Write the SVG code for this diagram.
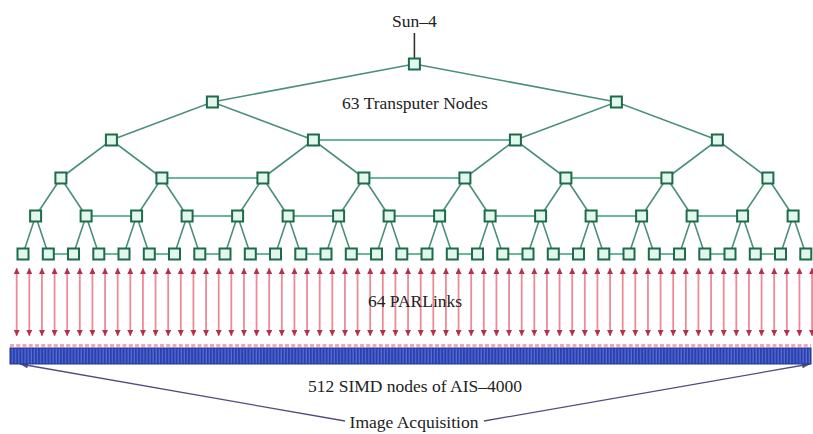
<svg xmlns="http://www.w3.org/2000/svg" xmlns:xlink="http://www.w3.org/1999/xlink" width="813" height="434" viewBox="0 0 813 434">
<style>
text{font-family:"Liberation Serif","Times New Roman",serif;font-size:17.5px;fill:#222;text-anchor:middle}
.tree{fill:none;stroke:#4a8f7a;stroke-width:1.6}
.hl{fill:none;stroke:#37a07f;stroke-width:1.6}
.nd{fill:#e2f8ec;stroke:#1e6a4b;stroke-width:2}
.pl{stroke:#ec8a98;stroke-width:1.8;marker-start:url(#ar);marker-end:url(#ar)}
.aq{fill:none;stroke:#4e4e7e;stroke-width:1.3;marker-end:url(#aq)}
</style>
<defs>
<rect id="nd" class="nd" x="-5.5" y="-5.5" width="11" height="11"/>
<marker id="ar" viewBox="0 0 6 6" refX="6" refY="3" markerWidth="6" markerHeight="6" markerUnits="userSpaceOnUse" orient="auto-start-reverse"><path d="M0,0L6,3L0,6z" fill="#b3304a"/></marker>
<marker id="aq" viewBox="0 0 8 6" refX="8" refY="3" markerWidth="8" markerHeight="6" markerUnits="userSpaceOnUse" orient="auto"><path d="M0,0L8,3L0,6z" fill="#4e4e7e"/></marker>
<pattern id="cells" x="10" y="0" width="3.125" height="20" patternUnits="userSpaceOnUse"><rect width="3.125" height="20" fill="#2b3fae"/><rect x="2" width="1" height="20" fill="#5a78d8"/></pattern>
</defs>
<rect width="813" height="434" fill="#fff"/>
<g id="connectors">
<path class="tree" d="M212.4,102L414.4,64L616.4,102
M111.4,140L212.4,102L313.4,140 M515.4,140L616.4,102L717.4,140
M60.9,178L111.4,140L161.9,178 M262.9,178L313.4,140L363.9,178 M464.9,178L515.4,140L565.9,178 M666.9,178L717.4,140L767.9,178
M35.6,216L60.9,178L86.1,216 M136.6,216L161.9,178L187.1,216 M237.6,216L262.9,178L288.1,216 M338.6,216L363.9,178L389.1,216 M439.6,216L464.9,178L490.1,216 M540.6,216L565.9,178L591.1,216 M641.6,216L666.9,178L692.1,216 M742.6,216L767.9,178L793.1,216
M23,254L35.6,216L48.3,254 M73.5,254L86.1,216L98.8,254 M124,254L136.6,216L149.3,254 M174.5,254L187.1,216L199.8,254 M225,254L237.6,216L250.3,254 M275.5,254L288.1,216L300.8,254 M326,254L338.6,216L351.3,254 M376.5,254L389.1,216L401.8,254 M427,254L439.6,216L452.3,254 M477.5,254L490.1,216L502.8,254 M528,254L540.6,216L553.3,254 M578.5,254L591.1,216L603.8,254 M629,254L641.6,216L654.3,254 M679.5,254L692.1,216L704.8,254 M730,254L742.6,216L755.3,254 M780.5,254L793.1,216L805.8,254"/>
<path class="tree" style="stroke:#333" d="M414.4,33V58"/>
<path class="hl" d="M313.4,140H515.4
M161.9,178H262.9 M363.9,178H464.9 M565.9,178H666.9
M86.1,216H136.6 M187.1,216H237.6 M288.1,216H338.6 M389.1,216H439.6 M490.1,216H540.6 M591.1,216H641.6 M692.1,216H742.6
M48.3,254H73.5 M98.8,254H124 M149.3,254H174.5 M199.8,254H225 M250.3,254H275.5 M300.8,254H326 M351.3,254H376.5 M401.8,254H427 M452.3,254H477.5 M502.8,254H528 M553.3,254H578.5 M603.8,254H629 M654.3,254H679.5 M704.8,254H730 M755.3,254H780.5"/>
<g id="parlinks">
<line class="pl" x1="16.69" y1="268" x2="16.69" y2="336"/>
<line class="pl" x1="29.31" y1="268" x2="29.31" y2="336"/>
<line class="pl" x1="41.94" y1="268" x2="41.94" y2="336"/>
<line class="pl" x1="54.56" y1="268" x2="54.56" y2="336"/>
<line class="pl" x1="67.19" y1="268" x2="67.19" y2="336"/>
<line class="pl" x1="79.81" y1="268" x2="79.81" y2="336"/>
<line class="pl" x1="92.44" y1="268" x2="92.44" y2="336"/>
<line class="pl" x1="105.06" y1="268" x2="105.06" y2="336"/>
<line class="pl" x1="117.69" y1="268" x2="117.69" y2="336"/>
<line class="pl" x1="130.31" y1="268" x2="130.31" y2="336"/>
<line class="pl" x1="142.94" y1="268" x2="142.94" y2="336"/>
<line class="pl" x1="155.56" y1="268" x2="155.56" y2="336"/>
<line class="pl" x1="168.19" y1="268" x2="168.19" y2="336"/>
<line class="pl" x1="180.81" y1="268" x2="180.81" y2="336"/>
<line class="pl" x1="193.44" y1="268" x2="193.44" y2="336"/>
<line class="pl" x1="206.06" y1="268" x2="206.06" y2="336"/>
<line class="pl" x1="218.69" y1="268" x2="218.69" y2="336"/>
<line class="pl" x1="231.31" y1="268" x2="231.31" y2="336"/>
<line class="pl" x1="243.94" y1="268" x2="243.94" y2="336"/>
<line class="pl" x1="256.56" y1="268" x2="256.56" y2="336"/>
<line class="pl" x1="269.19" y1="268" x2="269.19" y2="336"/>
<line class="pl" x1="281.81" y1="268" x2="281.81" y2="336"/>
<line class="pl" x1="294.44" y1="268" x2="294.44" y2="336"/>
<line class="pl" x1="307.06" y1="268" x2="307.06" y2="336"/>
<line class="pl" x1="319.69" y1="268" x2="319.69" y2="336"/>
<line class="pl" x1="332.31" y1="268" x2="332.31" y2="336"/>
<line class="pl" x1="344.94" y1="268" x2="344.94" y2="336"/>
<line class="pl" x1="357.56" y1="268" x2="357.56" y2="336"/>
<line class="pl" x1="370.19" y1="268" x2="370.19" y2="336"/>
<line class="pl" x1="382.81" y1="268" x2="382.81" y2="336"/>
<line class="pl" x1="395.44" y1="268" x2="395.44" y2="336"/>
<line class="pl" x1="408.06" y1="268" x2="408.06" y2="336"/>
<line class="pl" x1="420.69" y1="268" x2="420.69" y2="336"/>
<line class="pl" x1="433.31" y1="268" x2="433.31" y2="336"/>
<line class="pl" x1="445.94" y1="268" x2="445.94" y2="336"/>
<line class="pl" x1="458.56" y1="268" x2="458.56" y2="336"/>
<line class="pl" x1="471.19" y1="268" x2="471.19" y2="336"/>
<line class="pl" x1="483.81" y1="268" x2="483.81" y2="336"/>
<line class="pl" x1="496.44" y1="268" x2="496.44" y2="336"/>
<line class="pl" x1="509.06" y1="268" x2="509.06" y2="336"/>
<line class="pl" x1="521.69" y1="268" x2="521.69" y2="336"/>
<line class="pl" x1="534.31" y1="268" x2="534.31" y2="336"/>
<line class="pl" x1="546.94" y1="268" x2="546.94" y2="336"/>
<line class="pl" x1="559.56" y1="268" x2="559.56" y2="336"/>
<line class="pl" x1="572.19" y1="268" x2="572.19" y2="336"/>
<line class="pl" x1="584.81" y1="268" x2="584.81" y2="336"/>
<line class="pl" x1="597.44" y1="268" x2="597.44" y2="336"/>
<line class="pl" x1="610.06" y1="268" x2="610.06" y2="336"/>
<line class="pl" x1="622.69" y1="268" x2="622.69" y2="336"/>
<line class="pl" x1="635.31" y1="268" x2="635.31" y2="336"/>
<line class="pl" x1="647.94" y1="268" x2="647.94" y2="336"/>
<line class="pl" x1="660.56" y1="268" x2="660.56" y2="336"/>
<line class="pl" x1="673.19" y1="268" x2="673.19" y2="336"/>
<line class="pl" x1="685.81" y1="268" x2="685.81" y2="336"/>
<line class="pl" x1="698.44" y1="268" x2="698.44" y2="336"/>
<line class="pl" x1="711.06" y1="268" x2="711.06" y2="336"/>
<line class="pl" x1="723.69" y1="268" x2="723.69" y2="336"/>
<line class="pl" x1="736.31" y1="268" x2="736.31" y2="336"/>
<line class="pl" x1="748.94" y1="268" x2="748.94" y2="336"/>
<line class="pl" x1="761.56" y1="268" x2="761.56" y2="336"/>
<line class="pl" x1="774.19" y1="268" x2="774.19" y2="336"/>
<line class="pl" x1="786.81" y1="268" x2="786.81" y2="336"/>
<line class="pl" x1="799.44" y1="268" x2="799.44" y2="336"/>
<line class="pl" x1="812.06" y1="268" x2="812.06" y2="336"/>
</g>
<path class="aq" d="M345,421L20,364"/>
<path class="aq" d="M484,421L810,364"/>
</g>
<g id="sun4"><text x="414.4" y="27">Sun–4</text></g>
<g id="label-transputers"><text x="415" y="109">63 Transputer Nodes</text></g>
<g id="label-parlinks"><text x="415" y="307">64 PARLinks</text></g>
<g id="simd">
<line x1="10" y1="345.5" x2="811" y2="345.5" stroke="#f2a6bc" stroke-width="3" stroke-dasharray="4 2.25"/>
<rect x="10" y="348" width="801" height="16" fill="url(#cells)" stroke="#223399" stroke-width="1"/>
<text x="415" y="392">512 SIMD nodes of AIS–4000</text>
</g>
<g id="acquisition"><text x="414" y="428">Image Acquisition</text></g>
<g id="n1"><use xlink:href="#nd" x="414.4" y="64"/></g>
<g id="n2"><use xlink:href="#nd" x="212.4" y="102"/></g>
<g id="n3"><use xlink:href="#nd" x="616.4" y="102"/></g>
<g id="n4"><use xlink:href="#nd" x="111.4" y="140"/></g>
<g id="n5"><use xlink:href="#nd" x="313.4" y="140"/></g>
<g id="n6"><use xlink:href="#nd" x="515.4" y="140"/></g>
<g id="n7"><use xlink:href="#nd" x="717.4" y="140"/></g>
<g id="n8"><use xlink:href="#nd" x="60.9" y="178"/></g>
<g id="n9"><use xlink:href="#nd" x="161.9" y="178"/></g>
<g id="n10"><use xlink:href="#nd" x="262.9" y="178"/></g>
<g id="n11"><use xlink:href="#nd" x="363.9" y="178"/></g>
<g id="n12"><use xlink:href="#nd" x="464.9" y="178"/></g>
<g id="n13"><use xlink:href="#nd" x="565.9" y="178"/></g>
<g id="n14"><use xlink:href="#nd" x="666.9" y="178"/></g>
<g id="n15"><use xlink:href="#nd" x="767.9" y="178"/></g>
<g id="n16"><use xlink:href="#nd" x="35.6" y="216"/></g>
<g id="n17"><use xlink:href="#nd" x="86.1" y="216"/></g>
<g id="n18"><use xlink:href="#nd" x="136.6" y="216"/></g>
<g id="n19"><use xlink:href="#nd" x="187.1" y="216"/></g>
<g id="n20"><use xlink:href="#nd" x="237.6" y="216"/></g>
<g id="n21"><use xlink:href="#nd" x="288.1" y="216"/></g>
<g id="n22"><use xlink:href="#nd" x="338.6" y="216"/></g>
<g id="n23"><use xlink:href="#nd" x="389.1" y="216"/></g>
<g id="n24"><use xlink:href="#nd" x="439.6" y="216"/></g>
<g id="n25"><use xlink:href="#nd" x="490.1" y="216"/></g>
<g id="n26"><use xlink:href="#nd" x="540.6" y="216"/></g>
<g id="n27"><use xlink:href="#nd" x="591.1" y="216"/></g>
<g id="n28"><use xlink:href="#nd" x="641.6" y="216"/></g>
<g id="n29"><use xlink:href="#nd" x="692.1" y="216"/></g>
<g id="n30"><use xlink:href="#nd" x="742.6" y="216"/></g>
<g id="n31"><use xlink:href="#nd" x="793.1" y="216"/></g>
<g id="n32"><use xlink:href="#nd" x="23" y="254"/></g>
<g id="n33"><use xlink:href="#nd" x="48.3" y="254"/></g>
<g id="n34"><use xlink:href="#nd" x="73.5" y="254"/></g>
<g id="n35"><use xlink:href="#nd" x="98.8" y="254"/></g>
<g id="n36"><use xlink:href="#nd" x="124" y="254"/></g>
<g id="n37"><use xlink:href="#nd" x="149.3" y="254"/></g>
<g id="n38"><use xlink:href="#nd" x="174.5" y="254"/></g>
<g id="n39"><use xlink:href="#nd" x="199.8" y="254"/></g>
<g id="n40"><use xlink:href="#nd" x="225" y="254"/></g>
<g id="n41"><use xlink:href="#nd" x="250.3" y="254"/></g>
<g id="n42"><use xlink:href="#nd" x="275.5" y="254"/></g>
<g id="n43"><use xlink:href="#nd" x="300.8" y="254"/></g>
<g id="n44"><use xlink:href="#nd" x="326" y="254"/></g>
<g id="n45"><use xlink:href="#nd" x="351.3" y="254"/></g>
<g id="n46"><use xlink:href="#nd" x="376.5" y="254"/></g>
<g id="n47"><use xlink:href="#nd" x="401.8" y="254"/></g>
<g id="n48"><use xlink:href="#nd" x="427" y="254"/></g>
<g id="n49"><use xlink:href="#nd" x="452.3" y="254"/></g>
<g id="n50"><use xlink:href="#nd" x="477.5" y="254"/></g>
<g id="n51"><use xlink:href="#nd" x="502.8" y="254"/></g>
<g id="n52"><use xlink:href="#nd" x="528" y="254"/></g>
<g id="n53"><use xlink:href="#nd" x="553.3" y="254"/></g>
<g id="n54"><use xlink:href="#nd" x="578.5" y="254"/></g>
<g id="n55"><use xlink:href="#nd" x="603.8" y="254"/></g>
<g id="n56"><use xlink:href="#nd" x="629" y="254"/></g>
<g id="n57"><use xlink:href="#nd" x="654.3" y="254"/></g>
<g id="n58"><use xlink:href="#nd" x="679.5" y="254"/></g>
<g id="n59"><use xlink:href="#nd" x="704.8" y="254"/></g>
<g id="n60"><use xlink:href="#nd" x="730" y="254"/></g>
<g id="n61"><use xlink:href="#nd" x="755.3" y="254"/></g>
<g id="n62"><use xlink:href="#nd" x="780.5" y="254"/></g>
<g id="n63"><use xlink:href="#nd" x="805.8" y="254"/></g>
</svg>
